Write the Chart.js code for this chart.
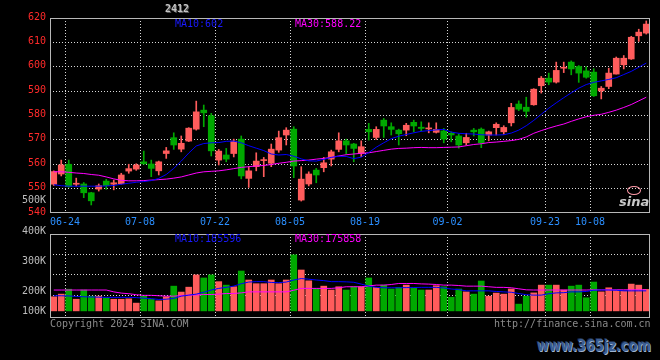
<!DOCTYPE html>
<html>
<head>
<meta charset="utf-8">
<script src="https://cdn.jsdelivr.net/npm/chart.js@4.4.1/dist/chart.umd.min.js"></script>
<style>
  html, body { margin: 0; padding: 0; background: #000; }
  #wrap { position: relative; width: 660px; height: 360px; background: #000; overflow: hidden;
          font-family: "DejaVu Sans Mono", monospace; font-size: 10px; }
  canvas { position: absolute; left: 0; }
  #main { top: 0; }
  #vol { top: 226px; }
  .t { position: absolute; white-space: pre; line-height: 1; }
</style>
</head>
<body>
<div id="wrap">
  <canvas id="main" width="660" height="232"></canvas>
  <canvas id="vol" width="660" height="100"></canvas>

  <div class="t" style="left:165px;top:4px;color:#c4c4c4;font-weight:bold;text-shadow:1px 1px 0 #555">2412</div>
  <div class="t" style="left:175px;top:19px;color:#1a1aff">MA10:602</div>
  <div class="t" style="left:295px;top:19px;color:#ff00ff">MA30:588.22</div>
  <div class="t" style="left:22px;top:195px;color:#bdbdbd">500K</div>

  <div class="t" style="left:22px;top:226px;color:#bdbdbd">400K</div>
  <div class="t" style="left:22px;top:256px;color:#bdbdbd">300K</div>
  <div class="t" style="left:22px;top:286px;color:#bdbdbd">200K</div>
  <div class="t" style="left:22px;top:306px;color:#bdbdbd">100K</div>
  <div class="t" style="left:175px;top:234px;color:#1a1aff">MA10:185596</div>
  <div class="t" style="left:295px;top:234px;color:#ff00ff">MA30:175858</div>

  <div class="t" style="left:50px;top:319px;color:#8a8a8a">Copyright 2024 SINA.COM</div>
  <div class="t" style="left:494px;top:319px;color:#8a8a8a">http://finance.sina.com.cn</div>

  <div style="position:absolute;left:627px;top:186px;width:12px;height:7px;border:1px solid #ff9aa8;border-radius:50%"></div>
  <div class="t" style="left:619px;top:194px;color:#c8c8c8;font:italic bold 13px 'DejaVu Sans'">sina</div>
  <div class="t" style="left:537px;top:336px;color:#3c5e92;font:bold 16px 'DejaVu Sans';text-shadow:1px 1px 0 #9fb3d0,-1px -1px 0 #1c2c48;transform-origin:left top;transform:scaleX(0.81)">www.365jz.com</div>
</div>

<script>
// daily candles (price)
const opens = [551.8,556.0,560.0,551.8,551.9,548.3,549.8,553.1,551.8,552.0,
  557.2,558.0,561.0,560.1,557.3,564.4,570.9,566.2,569.5,574.4,
  582.2,579.9,561.7,563.8,564.4,570.3,554.2,559.0,561.5,560.4,
  565.8,572.0,574.4,545.3,551.9,557.6,558.6,562.1,566.1,569.6,
  568.3,564.4,574.3,571.0,578.1,575.4,574.0,574.0,577.2,575.2,
  574.5,573.1,573.7,572.7,571.6,568.8,574.0,574.4,572.0,575.0,
  573.3,577.0,584.7,583.4,584.4,592.2,595.3,593.7,599.4,601.9,
  600.1,598.3,597.8,590.1,591.9,597.0,600.8,603.2,612.7,613.8];
const highs = [557.3,561.7,561.7,554.3,552.5,548.5,551.9,553.8,553.5,556.3,
  560.0,560.2,565.4,561.7,561.3,566.9,572.9,571.6,575.0,585.9,
  584.3,580.9,566.1,566.5,570.3,571.6,559.0,564.7,562.8,568.3,
  573.6,575.0,575.4,559.0,556.9,558.3,562.8,565.8,572.9,570.3,
  568.6,569.6,576.8,575.4,578.8,577.0,574.4,576.8,578.1,577.4,
  577.0,577.0,574.7,573.3,572.5,572.7,574.7,574.9,573.6,577.0,
  575.8,585.0,586.0,587.5,591.0,596.0,597.4,601.9,601.9,602.4,
  600.5,600.0,599.2,591.9,599.4,604.0,604.6,612.5,615.4,618.8];
const lows = [551.3,555.2,550.5,551.0,546.3,543.3,549.0,549.7,549.5,551.8,
  556.3,557.5,560.0,554.9,555.6,562.4,566.1,565.1,569.3,574.0,
  575.4,563.4,559.7,561.0,563.0,554.0,550.5,557.3,554.9,559.0,
  564.9,567.9,554.5,544.9,551.1,552.4,556.9,559.3,565.1,564.2,
  561.0,563.1,569.9,570.2,571.0,572.0,567.9,571.7,573.3,573.6,
  572.9,572.8,568.8,569.2,566.6,567.9,571.6,566.8,569.6,572.0,
  572.3,575.7,582.0,579.3,584.2,589.2,592.6,593.3,597.6,596.7,
  593.6,595.3,587.8,586.8,591.0,597.0,599.1,603.0,610.4,613.4];
const closes = [557.0,559.7,550.8,552.2,548.3,545.0,551.2,551.2,552.4,555.6,
  558.2,559.7,560.2,558.3,561.0,565.5,567.9,568.6,574.8,581.5,
  581.1,565.5,565.4,562.1,569.5,555.2,557.3,561.3,561.9,566.2,
  570.9,574.0,559.3,553.9,556.0,555.6,560.6,565.1,569.6,567.9,
  566.5,567.2,573.3,574.3,575.7,574.3,572.5,576.0,575.7,574.7,
  574.9,574.3,570.3,572.0,567.9,571.0,573.3,568.8,573.3,576.4,
  575.1,583.3,582.6,581.7,590.8,595.3,593.7,598.5,599.8,599.1,
  597.4,595.7,588.1,591.2,597.4,603.5,603.5,612.1,614.2,617.5];

// moving averages as drawn
const ma10 = [551.6,551.2,551.0,551.0,551.0,551.0,551.0,551.1,551.3,551.8,
  552.2,552.6,552.9,553.3,554.2,555.8,558.3,561.3,564.6,567.5,
  568.5,568.8,568.9,569.4,569.5,568.8,567.6,566.6,565.6,564.2,
  563.8,564.0,563.3,562.2,561.4,561.3,562.0,562.8,563.3,563.2,
  562.3,562.9,564.8,567.0,568.8,570.5,571.5,572.2,572.9,573.5,
  573.8,574.1,574.3,573.2,572.7,572.5,572.4,572.1,572.0,572.0,
  572.1,572.8,574.0,575.8,578.0,580.5,583.0,585.2,587.3,589.3,
  591.2,592.7,593.6,594.2,594.8,595.5,596.8,598.1,599.8,601.5];
const ma30 = [556.9,556.9,556.7,556.4,556.2,555.8,555.5,554.8,554.0,553.4,
  553.2,553.2,553.3,553.5,553.7,553.9,554.3,554.8,555.6,556.4,
  556.9,557.1,557.3,557.7,558.2,558.7,559.0,559.3,559.5,559.9,
  560.4,560.8,561.3,561.5,561.7,562.1,562.4,562.8,563.4,563.9,
  564.2,564.5,564.7,565.2,565.7,566.2,566.5,566.6,566.8,566.9,
  566.8,566.8,566.9,567.0,567.1,567.6,568.1,568.4,568.9,569.1,
  569.4,569.7,570.2,571.2,572.7,573.8,574.8,575.7,576.5,577.6,
  578.6,579.5,580.1,580.5,581.3,582.2,583.3,584.5,586.0,587.5];

// volume, thousands
const vols = [93,106,130,81,126,96,96,88,81,81,
  83,62,96,80,73,93,145,116,140,200,
  185,200,167,150,142,219,175,157,157,175,
  157,175,298,224,171,132,145,126,142,126,
  142,142,185,139,150,131,139,150,136,126,
  126,147,142,91,131,117,106,170,96,111,
  106,131,57,96,112,150,150,150,126,145,
  150,88,165,117,137,126,121,155,150,129];
const volMa10 = [98,98,97,95,93,92,91,90,90,90,
  90,89,86,84,80,81,85,96,101,106,
  115,126,134,139,145,157,165,167,167,163,
  162,165,175,182,179,175,172,167,167,166,
  164,155,145,139,137,137,137,138,138,139,
  139,139,136,131,128,122,122,122,122,119,
  117,115,109,103,101,101,108,112,113,117,
  117,119,125,126,126,125,122,122,122,122];
const volMa30 = [126,126,126,126,126,126,126,126,117,111,
  108,103,100,100,98,96,96,99,101,102,
  104,104,106,109,109,112,117,117,117,117,
  117,117,125,134,134,134,134,134,137,142,
  142,142,146,150,150,153,158,158,158,156,
  155,153,150,150,148,145,145,145,142,139,
  139,137,132,127,126,126,126,126,126,126,
  126,126,127,127,127,127,127,127,127,127];

// date ticks (candle index -> label)
const tickIdx = [2, 12, 22, 32, 42, 53, 66, 72];
const tickLabels = ['06-24', '07-08', '07-22', '08-05', '08-19', '09-02', '09-23', '10-08'];
const volGrid = [100, 200, 300];

const MONO = "'DejaVu Sans Mono', monospace";
const GRID = '#d8d8d8';
const RED = '#ff5c5c', GREEN = '#00a800';

const cats = closes.map((_, i) => i);
const tickAt = {};
tickIdx.forEach((t, k) => { tickAt[t] = tickLabels[k]; });
const candleColor = c => closes[c.dataIndex] >= opens[c.dataIndex] ? RED : GREEN;

const box = {
  id: 'box',
  afterDraw(chart) {
    const { ctx, chartArea: a } = chart;
    ctx.save();
    ctx.strokeStyle = '#b8b8b8';
    ctx.lineWidth = 1;
    ctx.strokeRect(a.left + 0.5, a.top + 0.5, a.right - a.left - 1, a.bottom - a.top - 1);
    ctx.restore();
  }
};

function xScale(labels) {
  return {
    type: 'category',
    offset: true,
    grid: {
      offset: true, drawTicks: false,
      color: c => (c.tick && tickAt[c.tick.value] !== undefined) ? GRID : 'transparent'
    },
    border: { display: false, dash: [1, 2] },
    ticks: {
      display: labels, autoSkip: false, maxRotation: 0, padding: 3, labelOffset: -3.75,
      color: '#2b8fff', font: { family: MONO, size: 10 },
      callback: (v, i) => tickAt[i] || ''
    },
    afterFit: s => { s.height = labels ? 19 : 8; }
  };
}

const common = {
  responsive: false,
  animation: false,
  devicePixelRatio: 1,
  events: [],
  plugins: { legend: { display: false }, tooltip: { enabled: false } }
};

new Chart(document.getElementById('main'), {
  data: {
    labels: cats,
    datasets: [
      { type: 'line', data: ma10, borderColor: '#0000ff', borderWidth: 1, pointRadius: 0, order: 0 },
      { type: 'line', data: ma30, borderColor: '#ff00ff', borderWidth: 1, pointRadius: 0, order: 0 },
      { type: 'bar', data: cats.map(i => [opens[i], closes[i]]), backgroundColor: candleColor,
        barThickness: 6, grouped: false, minBarLength: 1, order: 1 },
      { type: 'bar', data: cats.map(i => [lows[i], highs[i]]), backgroundColor: candleColor,
        barThickness: 1, grouped: false, order: 2 }
    ]
  },
  options: {
    ...common,
    layout: { padding: { top: 18, right: 10, left: 0, bottom: 0 } },
    scales: {
      x: xScale(true),
      y: {
        min: 540, max: 620,
        ticks: { stepSize: 10, color: '#ff2a2a', padding: 4, labelOffset: -1, font: { family: MONO, size: 10 } },
        grid: { drawTicks: false, color: c => (c.tick.value > 540 && c.tick.value < 620) ? GRID : 'transparent' },
        border: { display: false, dash: [1, 2] },
        afterFit: s => { s.width = 50; }
      }
    }
  },
  plugins: [box]
});

new Chart(document.getElementById('vol'), {
  data: {
    labels: cats,
    datasets: [
      { type: 'line', data: volMa10, borderColor: '#0000ff', borderWidth: 1, pointRadius: 0, order: 0 },
      { type: 'line', data: volMa30, borderColor: '#ff00ff', borderWidth: 1, pointRadius: 0, order: 0 },
      { type: 'bar', data: vols, backgroundColor: candleColor, barThickness: 6, base: 24, order: 1 }
    ]
  },
  options: {
    ...common,
    layout: { padding: { top: 8, right: 10, left: 0, bottom: 0 } },
    scales: {
      x: xScale(false),
      y: {
        min: -10.8, max: 400,
        afterBuildTicks: s => { s.ticks = volGrid.map(v => ({ value: v })); },
        ticks: { display: false },
        grid: { drawTicks: false, color: GRID },
        border: { display: false, dash: [1, 2] },
        afterFit: s => { s.width = 50; }
      }
    }
  },
  plugins: [box]
});
</script>
</body>
</html>
